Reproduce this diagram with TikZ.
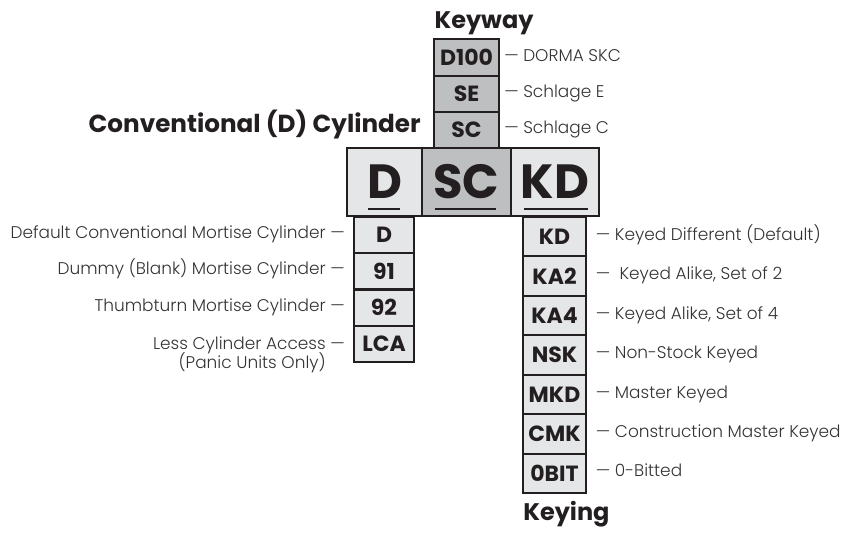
\documentclass[tikz,border=0pt]{standalone}
\usepackage{fontspec}
\setmainfont{Poppins}
\newfontfamily\notefont{Poppins Light}
\definecolor{ink}{HTML}{231F20}
\definecolor{cellpale}{HTML}{E5E6E8}
\definecolor{celldark}{HTML}{BEBFC1}
\definecolor{notegray}{HTML}{333333}
\tikzset{
  cell/.style={draw=ink, line width=1.5pt, inner sep=0pt, text=ink,
    font=\bfseries\fontsize{16.5}{19}\selectfont},
  keybox/.style={cell, fill=celldark, minimum width=48.75pt, minimum height=27.2pt},
  cylbox/.style={cell, fill=cellpale, minimum width=45pt, minimum height=27pt},
  keyingbox/.style={cell, fill=cellpale, minimum width=47.25pt, minimum height=29.55pt},
  bigbox/.style={cell, minimum height=51pt, font=\bfseries\fontsize{36}{40}\selectfont},
  note/.style={inner sep=0pt, text=notegray, font=\notefont\fontsize{12.7}{15}\selectfont},
  heading/.style={inner sep=0pt, text=ink, font=\bfseries\fontsize{18}{22}\selectfont},
  uline/.style={draw=ink, line width=1.6pt}
}
\begin{document}
\begin{tikzpicture}[x=0.75pt,y=-0.75pt]
\useasboundingbox (0,0) rectangle (842,533);
% keyway column
\node[keybox] (kD100) at (466.5,57.5) {D100};
\node[keybox] (kSE) at (466.5,94) {SE};
\node[keybox] (kSC) at (466.5,130) {SC};
\node[note,anchor=mid west] at ([xshift=3pt]kD100.east) {— DORMA SKC};
\node[note,anchor=mid west] at ([xshift=3pt]kSE.east) {— Schlage E};
\node[note,anchor=mid west] at ([xshift=3pt]kSC.east) {— Schlage C};
\node[heading,anchor=base] (keyway) at (484,28) {Keyway};
% main code row
\node[bigbox,fill=cellpale,minimum width=56.25pt] (mD) at (384.5,182) {D};
\node[bigbox,fill=celldark,minimum width=66.75pt] (mSC) at (466.5,182) {SC};
\node[bigbox,fill=cellpale,minimum width=66pt] (mKD) at (555,182) {KD};
\draw[uline] ([xshift=-12.75pt,yshift=5.8pt]mD.south) -- ([xshift=11.25pt,yshift=5.8pt]mD.south);
\draw[uline] ([xshift=-23.6pt,yshift=5.8pt]mSC.south) -- ([xshift=22.1pt,yshift=5.8pt]mSC.south);
\draw[uline] ([xshift=-23.25pt,yshift=5.8pt]mKD.south) -- ([xshift=24.75pt,yshift=5.8pt]mKD.south);
\node[heading,anchor=base east,font=\bfseries\fontsize{18.5}{22}\selectfont] (cyl) at (421,132) {Conventional (D) Cylinder};
% cylinder column
\node[cylbox] (cD) at (384,235) {D};
\node[cylbox] (c91) at (384,271) {91};
\node[cylbox] (c92) at (384,307.5) {92};
\node[cylbox] (cLCA) at (384,343.5) {LCA};
\node[note,anchor=mid east] at ([xshift=-6pt]cD.west) {Default Conventional Mortise Cylinder —};
\node[note,anchor=mid east] at ([xshift=-6pt]c91.west) {Dummy (Blank) Mortise Cylinder —};
\node[note,anchor=mid east] at ([xshift=-6pt]c92.west) {Thumbturn Mortise Cylinder —};
\node[note,anchor=north east,align=right] at ([xshift=-6pt,yshift=5.5pt]cLCA.west)
  {Less Cylinder Access —\\[-2pt](Panic Units Only)\phantom{ —}};
% keying column
\node[keyingbox] (yKD) at (554.5,236.7) {KD};
\node[keyingbox] (yKA2) at (554.5,276.1) {KA2};
\node[keyingbox] (yKA4) at (554.5,315.5) {KA4};
\node[keyingbox] (yNSK) at (554.5,355) {NSK};
\node[keyingbox] (yMKD) at (554.5,394.4) {MKD};
\node[keyingbox] (yCMK) at (554.5,433.8) {CMK};
\node[keyingbox] (y0BIT) at (554.5,473.3) {0BIT};
\node[note,anchor=mid west] at ([xshift=6.5pt]yKD.east) {— Keyed Different (Default)};
\node[note,anchor=mid west] at ([xshift=6.5pt]yKA2.east) {—\ \ Keyed Alike, Set of 2};
\node[note,anchor=mid west] at ([xshift=6.5pt]yKA4.east) {— Keyed Alike, Set of 4};
\node[note,anchor=mid west] at ([xshift=6.5pt]yNSK.east) {— Non-Stock Keyed};
\node[note,anchor=mid west] at ([xshift=6.5pt]yMKD.east) {— Master Keyed};
\node[note,anchor=mid west] at ([xshift=6.5pt]yCMK.east) {— Construction Master Keyed};
\node[note,anchor=mid west] at ([xshift=6.5pt]y0BIT.east) {— 0-Bitted};
\node[heading,anchor=base west] (keying) at (523,520) {Keying};
\end{tikzpicture}
\end{document}
